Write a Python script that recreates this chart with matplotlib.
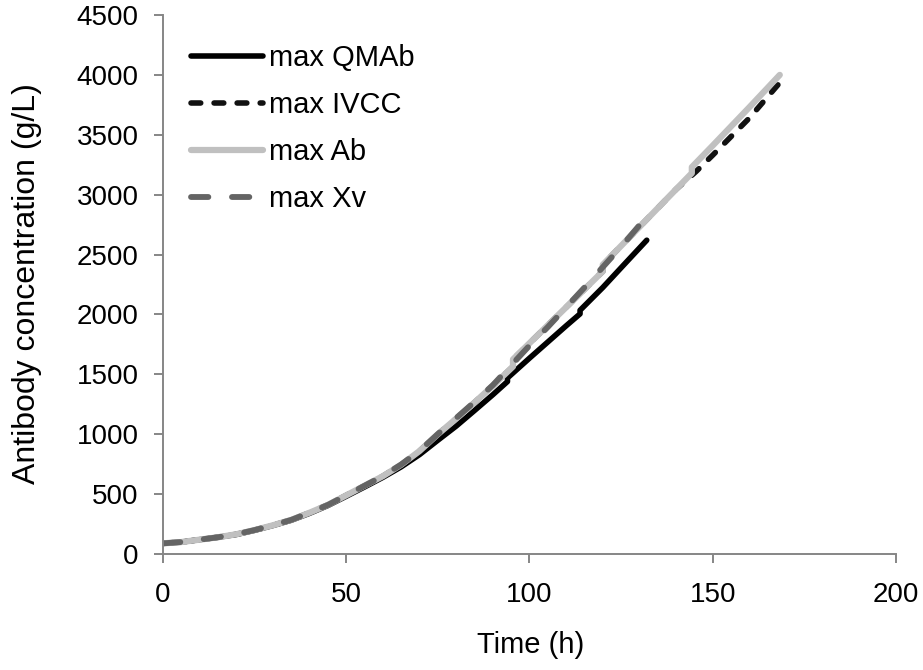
import matplotlib
matplotlib.use('Agg')
from matplotlib import pyplot as plt

plt.rcParams['font.family'] = ['Liberation Sans', 'DejaVu Sans']
plt.rcParams['lines.scale_dashes'] = False

# time (h) and antibody concentration
t_qmab = [0, 5, 10, 15, 20, 25, 30, 35, 40, 45, 50, 55, 60, 65, 70, 75, 80, 85, 90, 94, 94,
          100, 105, 110, 113.8, 113.8, 120, 125, 132]
v_qmab = [89, 100, 120, 140, 163, 198, 238, 282, 340, 405, 482, 560, 640, 728, 830, 950, 1068, 1198, 1330, 1440, 1470,
          1635, 1770, 1905, 2005, 2035, 2225, 2390, 2620]

t_ab = [0, 5, 10, 15, 20, 25, 30, 35, 40, 45, 50, 55, 60, 65, 70, 75, 80, 85, 90, 95.5, 95.5,
        100, 110, 120, 120, 130, 140, 144.3, 144.3, 150, 160, 168.3]
v_ab = [89, 100, 120, 140, 165, 200, 240, 285, 345, 410, 490, 570, 650, 745, 860, 1000, 1130, 1265, 1405, 1565, 1625,
        1760, 2060, 2360, 2415, 2730, 3045, 3180, 3230, 3410, 3730, 4000]

t_ivcc = [0, 5, 10, 15, 20, 25, 30, 35, 40, 45, 50, 55, 60, 65, 70, 75, 80, 85, 90, 95.5, 95.5,
          100, 110, 120, 120, 130, 140, 145.5, 150, 160, 169]
v_ivcc = [89, 100, 120, 140, 165, 200, 240, 285, 345, 410, 490, 570, 650, 745, 860, 1000, 1130, 1265, 1405, 1565, 1625,
          1760, 2060, 2360, 2415, 2730, 3045, 3195, 3330, 3640, 3960]

t_xv = [0, 5, 10, 15, 20, 25, 30, 35, 40, 45, 50, 55, 60, 65, 70, 75, 80, 85, 90, 95, 100, 105, 110, 115, 120, 125, 130, 134]
v_xv = [89, 100, 120, 140, 165, 200, 240, 285, 345, 410, 490, 570, 652, 748, 862, 1002, 1135, 1270, 1410, 1575, 1740,
        1895, 2060, 2225, 2395, 2565, 2745, 2870]

x_ticks = [0, 50, 100, 150, 200]
y_ticks = [0, 500, 1000, 1500, 2000, 2500, 3000, 3500, 4000, 4500]

fig = plt.figure(figsize=(9.23, 6.70), dpi=100)
ax = fig.add_axes([0.1766, 0.1731, 0.7941, 0.8045])

ax.plot(t_qmab, v_qmab, color='black', lw=4.0, solid_capstyle='round', label='max QMAb')
ax.plot(t_ivcc, v_ivcc, color='#111111', lw=4.0, dashes=(7.0, 9.6), dash_capstyle='round', label='max IVCC')
ax.plot(t_ab, v_ab, color='#c0c0c0', lw=4.5, solid_capstyle='round', label='max Ab')
ax.plot(t_xv, v_xv, color='#646464', lw=4.2, dashes=(12.5, 17), dash_capstyle='round', label='max Xv')

ax.set_xlim(0, 200)
ax.set_ylim(0, 4500)
ax.set_xticks(x_ticks)
ax.set_yticks(y_ticks)

for side in ['top', 'right']:
    ax.spines[side].set_visible(False)
for side in ['left', 'bottom']:
    ax.spines[side].set_color('#868686')
    ax.spines[side].set_linewidth(1.4)
ax.tick_params(axis='both', colors='#868686', length=6.5, width=1.4, labelsize=20, labelcolor='black')
ax.tick_params(axis='x', pad=14)
ax.tick_params(axis='y', pad=11)

fig.text(0.5750, 1 - 645 / 670, 'Time (h)', fontsize=21, ha='center', va='center')
fig.text(27 / 923, 1 - 284 / 670, 'Antibody concentration (g/L)', fontsize=23, rotation=90,
         ha='center', va='center')

leg = ax.legend(loc='upper left', bbox_to_anchor=(0.01, 0.984), frameon=False, fontsize=21,
                handlelength=2.47, handletextpad=0.2, labelspacing=0.65, borderaxespad=0.3)

fig.savefig('out.png', dpi=100)
